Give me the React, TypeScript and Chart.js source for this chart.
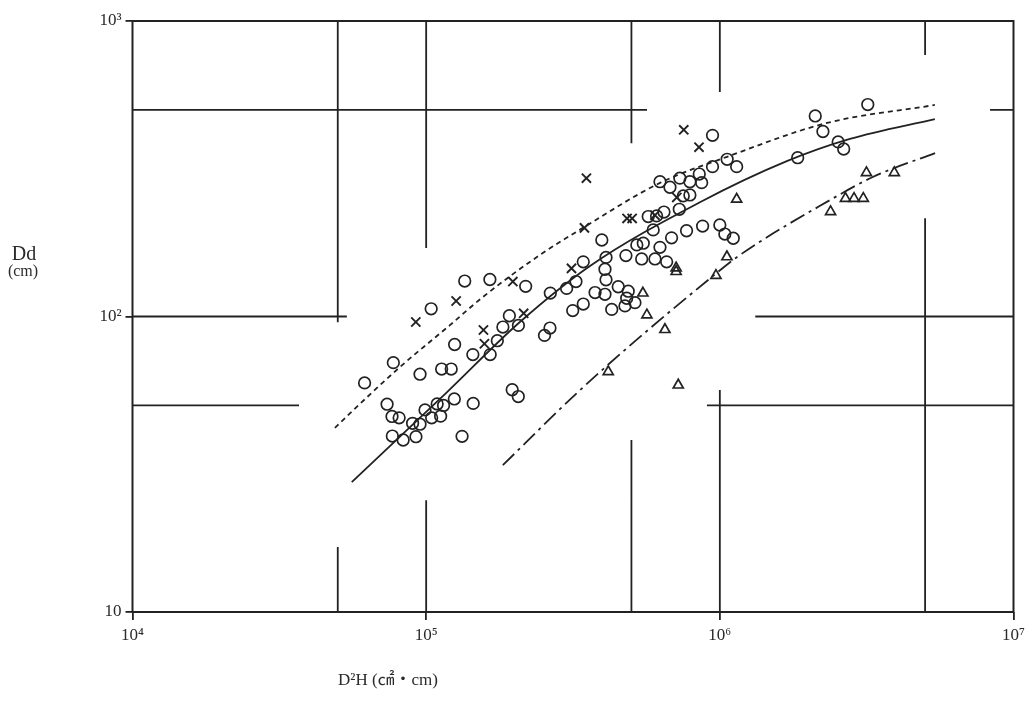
import React, { useEffect, useRef } from "react";
import { Chart, registerables } from "chart.js";

Chart.register(...registerables);

// ---- axis ticks ----
const xTickValues = [1e4, 1e5, 1e6, 1e7];
const xTickLabels = ["10⁴", "10⁵", "10⁶", "10⁷"];
const yTickValues = [10, 100, 1000];
const yTickLabels = ["10", "10²", "10³"];

// ---- observed points: circles ----
const circleX = [
  61700, 76700, 83500, 92300, 73600, 76500, 80900, 89900, 95300, 99100,
  104400, 109000, 114600, 112000, 124700, 132500, 144600, 77300, 95300, 112900,
  121700, 125000, 104000, 135300, 164800, 144200, 165200, 174700, 182500, 192000,
  206100, 218200, 196300, 205900, 252900, 264000, 264700, 342700, 396400, 409700,
  406300, 323700, 300800, 409700, 375900, 406300, 450900, 487600, 481800, 514000,
  342700, 315500, 428400, 475300, 478900, 521600, 548700, 541800, 601300, 659000,
  625400, 685000, 593000, 570400, 609100, 645300, 727700, 750700, 790800, 625400,
  676300, 731000, 790800, 851100, 867200, 770300, 873600, 1000000, 1040000, 1111000,
  944300, 1059000, 1141000, 944300, 2113000, 3190000, 2244000, 2529000, 2641000, 1841000,
];
const circleY = [
  59.6, 39.4, 38.2, 39.2, 50.5, 45.9, 45.4, 43.5, 43.2, 48.3,
  45.4, 50.6, 50.0, 46.0, 52.6, 39.3, 50.8, 69.8, 63.8, 66.4,
  66.4, 80.4, 106.2, 131.8, 133.4, 74.3, 74.3, 82.8, 92.1, 100.6,
  93.3, 126.5, 56.5, 53.6, 86.3, 91.4, 120.0, 153.1, 181.5, 158.5,
  144.5, 131.3, 124.5, 133.1, 120.5, 118.9, 126.1, 121.8, 115.3, 111.4,
  110.2, 104.7, 105.7, 108.6, 160.7, 174.7, 177.0, 156.6, 156.6, 153.1,
  171.4, 184.6, 196.4, 217.9, 219.0, 225.7, 230.6, 255.9, 257.8, 285.9,
  273.8, 293.9, 285.9, 303.4, 283.8, 195.1, 202.3, 204.0, 190.1, 184.0,
  410.3, 340.4, 321.4, 321.4, 477.2, 521.6, 422.7, 389.8, 368.9, 344.6,
];

// ---- crosses ----
const crossX = [92200, 126500, 197300, 156700, 157900, 214800, 312500, 345900, 351300, 483100, 502700, 601300, 713700, 753600, 849300];
const crossY = [95.8, 112.8, 131.3, 90.0, 80.9, 102.5, 145.5, 199.5, 293.9, 214.7, 214.7, 220.2, 252.9, 428.3, 374.2];

// ---- triangles ----
const triangleX = [416900, 547100, 564400, 650200, 721800, 709900, 709900, 970000, 1057000, 1141000, 2383000, 2678000, 2864000, 3080000, 3157000, 3927000];
const triangleY = [65.0, 120.0, 101.2, 90.3, 58.6, 141.9, 145.9, 137.7, 159.2, 249.3, 226.4, 250.8, 250.8, 250.8, 306.7, 306.7];

// ---- fitted curves ----
const upperX = [48900, 55100, 81500, 120500, 156000, 243700, 342000, 625400, 1057000, 2317000, 5397000];
const upperY = [42.0, 47.1, 67.5, 93.5, 116.4, 161.4, 199.5, 283.2, 346.9, 451.8, 519.8];
const middleX = [55800, 117800, 208500, 361300, 855500, 1691000, 2773000, 5397000];
const middleY = [27.5, 55.5, 95.8, 148.3, 243.6, 335.5, 399.0, 465.6];
const lowerX = [182400, 326100, 534600, 903600, 1143000, 2371000, 3319000, 5534000];
const lowerY = [31.4, 55.1, 85.3, 131.8, 158.8, 247.6, 296.5, 360.5];

// ---- partial reference grid (data units) ----
const gridHY = [500, 500, 100, 100, 50, 50];
const gridHX1 = [1e4, 8.32e6, 1e4, 1.32e6, 1e4, 9.04e5];
const gridHX2 = [5.65e5, 1e7, 5.37e4, 1e7, 3.69e4, 1e7];
const gridVX = [5e4, 5e4, 1e5, 1e5, 5e5, 5e5, 1e6, 1e6, 5e6, 5e6];
const gridVY1 = [1000, 16.6, 1000, 23.9, 1000, 38.2, 1000, 56.4, 1000, 215];
const gridVY2 = [95.7, 10, 170.6, 10, 386, 10, 575, 10, 767, 10];

const INK = "#222";
const SERIF = "'Liberation Serif', 'DejaVu Serif', 'Noto Serif', serif";

const zip = (xs: number[], ys: number[]) => xs.map((x, i) => ({ x, y: ys[i] }));

const framePlugin = {
  id: "framePlugin",
  beforeDatasetsDraw(chart: any) {
    const { ctx, chartArea, scales } = chart;
    const xs = scales.x;
    const ys = scales.y;
    ctx.save();
    ctx.strokeStyle = INK;
    ctx.lineWidth = 1.8;
    ctx.beginPath();
    for (let i = 0; i < gridHY.length; i++) {
      const py = ys.getPixelForValue(gridHY[i]);
      ctx.moveTo(xs.getPixelForValue(gridHX1[i]), py);
      ctx.lineTo(xs.getPixelForValue(gridHX2[i]), py);
    }
    for (let i = 0; i < gridVX.length; i++) {
      const px = xs.getPixelForValue(gridVX[i]);
      ctx.moveTo(px, ys.getPixelForValue(gridVY1[i]));
      ctx.lineTo(px, ys.getPixelForValue(gridVY2[i]));
    }
    ctx.stroke();
    ctx.lineWidth = 2;
    ctx.strokeRect(chartArea.left, chartArea.top, chartArea.right - chartArea.left, chartArea.bottom - chartArea.top);
    ctx.restore();
  },
  afterDraw(chart: any) {
    const { ctx, chartArea } = chart;
    ctx.save();
    ctx.fillStyle = "#2a2a2a";
    ctx.textAlign = "center";
    ctx.textBaseline = "middle";
    ctx.font = `20px ${SERIF}`;
    ctx.fillText("Dd", 24, chartArea.top + 234);
    ctx.font = `16px ${SERIF}`;
    ctx.fillText("(cm)", 23, chartArea.top + 251);
    ctx.font = `17px ${SERIF}, 'Noto Sans CJK JP'`;
    ctx.fillText("D²H (㎠・cm)", 388, chartArea.bottom + 69);
    ctx.restore();
  },
};

export default function App() {
  const ref = useRef<HTMLCanvasElement | null>(null);

  useEffect(() => {
    if (!ref.current) return;
    const pointBase = {
      borderColor: INK,
      backgroundColor: "rgba(0,0,0,0)",
      showLine: false,
    };
    const lineBase = {
      borderColor: INK,
      backgroundColor: "rgba(0,0,0,0)",
      showLine: true,
      pointRadius: 0,
      borderWidth: 1.8,
      cubicInterpolationMode: "monotone" as const,
    };
    const chart = new Chart(ref.current, {
      type: "scatter",
      data: {
        datasets: [
          { ...lineBase, label: "upper", data: zip(upperX, upperY), borderDash: [5, 4] },
          { ...lineBase, label: "middle", data: zip(middleX, middleY) },
          { ...lineBase, label: "lower", data: zip(lowerX, lowerY), borderDash: [16, 5, 3, 5] },
          { ...pointBase, label: "circle", data: zip(circleX, circleY), pointStyle: "circle", pointRadius: 5.8, borderWidth: 1.7 },
          { ...pointBase, label: "cross", data: zip(crossX, crossY), pointStyle: "crossRot", pointRadius: 6.5, borderWidth: 1.9 },
          { ...pointBase, label: "triangle", data: zip(triangleX, triangleY), pointStyle: "triangle", pointRadius: 5.8, borderWidth: 1.7 },
        ],
      },
      options: {
        animation: false,
        responsive: false,
        events: [],
        layout: { padding: { top: 21, right: 19.5, left: 0, bottom: 0 } },
        plugins: { legend: { display: false }, tooltip: { enabled: false }, title: { display: false } },
        scales: {
          x: {
            type: "logarithmic",
            min: 1e4,
            max: 1e7,
            afterBuildTicks: (s: any) => {
              s.ticks = xTickValues.map((v) => ({ value: v }));
            },
            afterFit: (s: any) => {
              s.height = 90;
            },
            border: { display: false },
            grid: { drawOnChartArea: false, drawTicks: true, tickLength: 8, color: INK, lineWidth: 1.8 },
            ticks: {
              autoSkip: false,
              maxRotation: 0,
              padding: 5,
              color: "#2a2a2a",
              font: { family: SERIF, size: 17 },
              callback: (v: any) => {
                const i = xTickValues.indexOf(Number(v));
                return i >= 0 ? xTickLabels[i] : "";
              },
            },
          },
          y: {
            type: "logarithmic",
            min: 10,
            max: 1000,
            afterBuildTicks: (s: any) => {
              s.ticks = yTickValues.map((v) => ({ value: v }));
            },
            afterFit: (s: any) => {
              s.width = 132.5;
            },
            border: { display: false },
            grid: { drawOnChartArea: false, drawTicks: true, tickLength: 7, color: INK, lineWidth: 1.8 },
            ticks: {
              autoSkip: false,
              padding: 4,
              color: "#2a2a2a",
              font: { family: SERIF, size: 17 },
              callback: (v: any) => {
                const i = yTickValues.indexOf(Number(v));
                return i >= 0 ? yTickLabels[i] : "";
              },
            },
          },
        },
      },
      plugins: [framePlugin],
    });
    return () => chart.destroy();
  }, []);

  return (
    <div style={{ position: "absolute", left: 0, top: 0, width: 1033, height: 702, background: "#fff" }}>
      <canvas ref={ref} width={1033} height={702} />
    </div>
  );
}
